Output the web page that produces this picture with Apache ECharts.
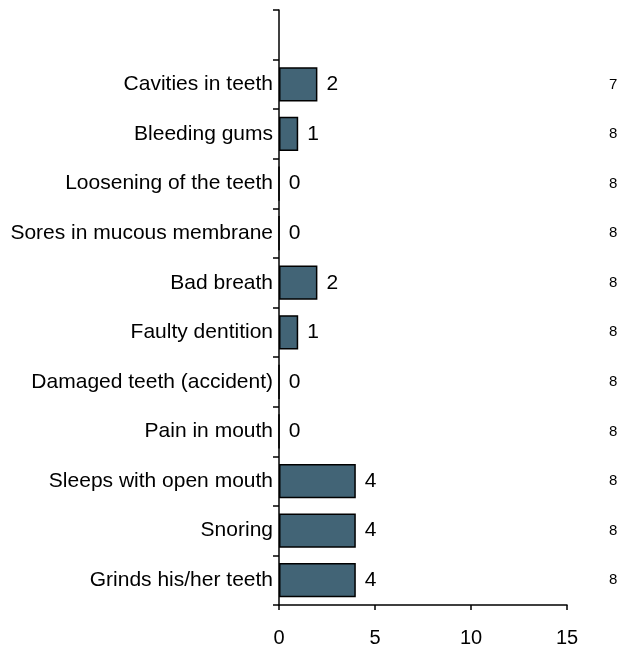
<!DOCTYPE html>
<html>
<head>
<meta charset="utf-8">
<script src="https://cdn.jsdelivr.net/npm/echarts@6/dist/echarts.min.js"></script>
<style>
  html, body { margin: 0; padding: 0; background: #fff; }
  #main { width: 621px; height: 651px; }
</style>
</head>
<body>
<div id="main"></div>
<script>
// categories bottom -> top, last one is the empty slot at the top of the axis
var categories = [
  'Grinds his/her teeth', 'Snoring', 'Sleeps with open mouth', 'Pain in mouth',
  'Damaged teeth (accident)', 'Faulty dentition', 'Bad breath',
  'Sores in mucous membrane', 'Loosening of the teeth', 'Bleeding gums',
  'Cavities in teeth', ''
];
var counts = [4, 4, 4, 0, 0, 1, 2, 0, 0, 1, 2, '-'];
var nValues = ['8', '8', '8', '8', '8', '8', '8', '8', '8', '8', '7', ''];
var xTicks = [0, 5, 10, 15];

var font = 'Liberation Sans, Arial, sans-serif';
var myChart = echarts.init(document.getElementById('main'));
myChart.setOption({
  animation: false,
  textStyle: { fontFamily: font },
  grid: { left: 279, right: 54, top: 10, bottom: 46, containLabel: false },
  xAxis: {
    type: 'value',
    min: xTicks[0],
    max: xTicks[xTicks.length - 1],
    interval: xTicks[1] - xTicks[0],
    splitLine: { show: false },
    axisLine: { show: true, lineStyle: { color: '#000', width: 1.5 } },
    axisTick: { show: true, length: 5, lineStyle: { color: '#000', width: 1.5 } },
    axisLabel: { color: '#000', fontSize: 20, margin: 23, fontFamily: font }
  },
  yAxis: [{
    type: 'category',
    data: categories,
    axisLine: { show: true, lineStyle: { color: '#000', width: 1.5 } },
    axisTick: { show: true, length: 6, lineStyle: { color: '#000', width: 1.5 } },
    axisLabel: { color: '#000', fontSize: 21, margin: 6, fontFamily: font, interval: 0 }
  }, {
    type: 'category',
    position: 'right',
    data: nValues,
    axisLine: { show: false },
    axisTick: { show: false },
    axisLabel: { color: '#000', fontSize: 15, margin: 42, fontFamily: font, interval: 0 }
  }],
  series: [{
    type: 'bar',
    data: counts,
    barWidth: '69%',
    itemStyle: { color: '#426476', borderColor: '#000', borderWidth: 1.5 },
    label: {
      show: true,
      position: 'right',
      distance: 9,
      color: '#000',
      fontSize: 21,
      fontFamily: font
    }
  }]
});
window.onresize = function () { myChart.resize(); };
</script>
</body>
</html>
